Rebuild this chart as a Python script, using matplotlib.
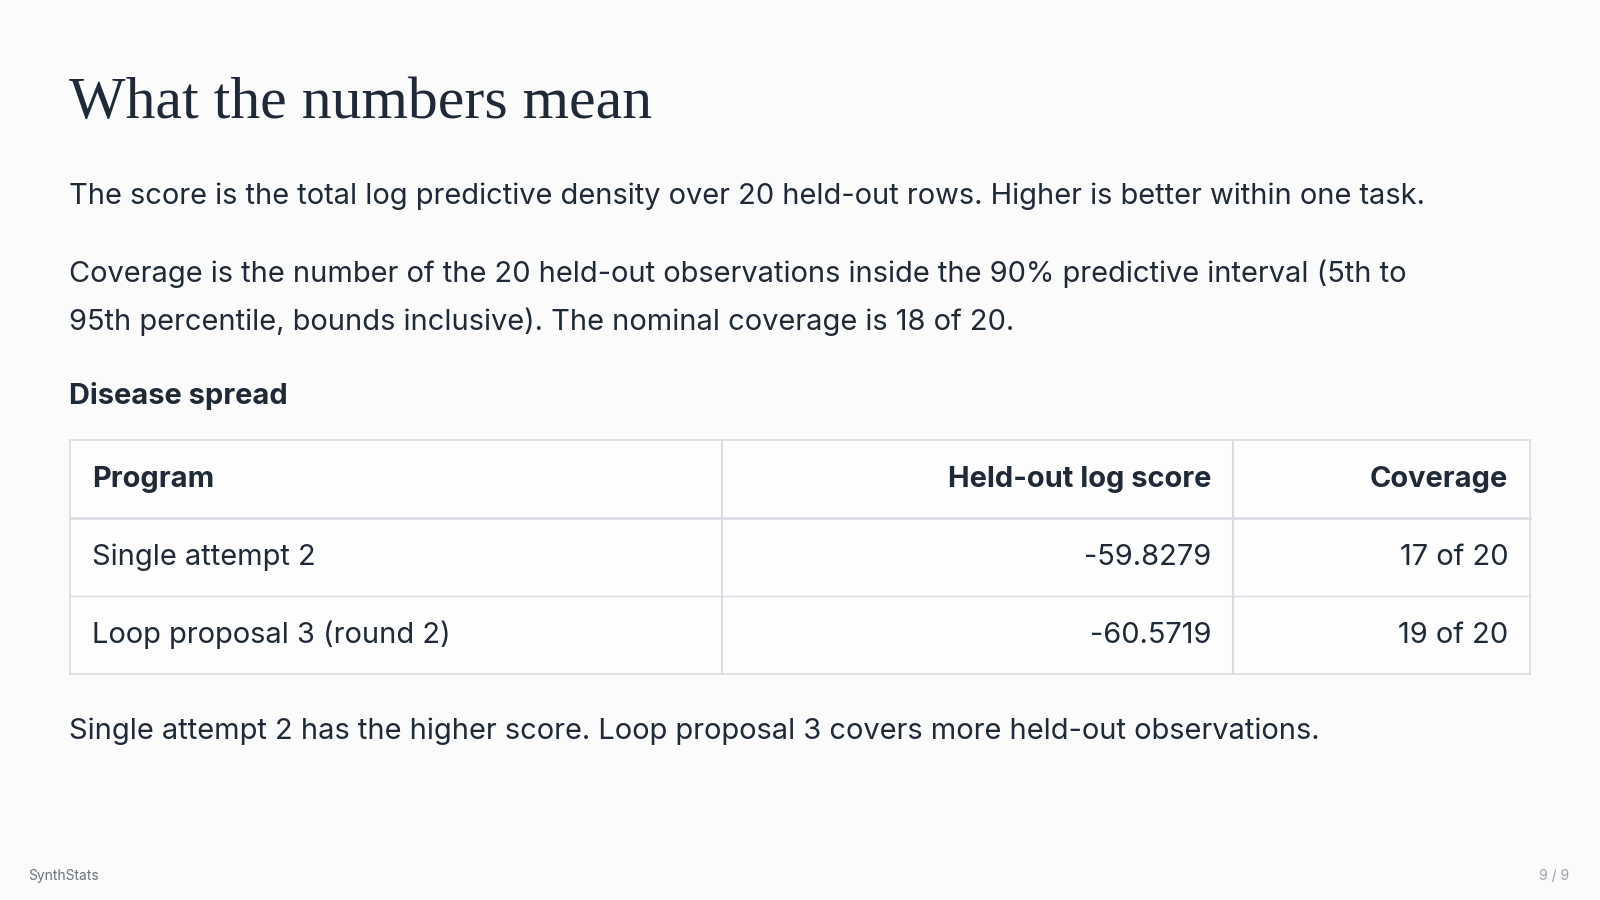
import matplotlib
matplotlib.use("Agg")
import matplotlib.pyplot as plt
from matplotlib.patches import Rectangle
from matplotlib.lines import Line2D

title = "What the numbers mean"
para1 = "The score is the total log predictive density over 20 held-out rows. Higher is better within one task."
para2a = "Coverage is the number of the 20 held-out observations inside the 90% predictive interval (5th to"
para2b = "95th percentile, bounds inclusive). The nominal coverage is 18 of 20."
section = "Disease spread"
headers = ["Program", "Held-out log score", "Coverage"]
programs = ["Single attempt 2", "Loop proposal 3 (round 2)"]
scores = ["-59.8279", "-60.5719"]
coverage = ["17 of 20", "19 of 20"]
closing = "Single attempt 2 has the higher score. Loop proposal 3 covers more held-out observations."
footer_left = "SynthStats"
footer_right = "9 / 9"

W, H = 1568, 882
BG = "#fbfbfc"
TXT = "#1f2937"
GRID = "#d8dce2"
FS = 20.9

fig = plt.figure(figsize=(16, 9), dpi=100, facecolor=BG)

def fx(px): return px / W
def fy(py): return 1 - py / H

def t(x, y, s, **kw):
    kw.setdefault("color", TXT)
    kw.setdefault("family", ["Inter", "DejaVu Sans"])
    kw.setdefault("va", "center")
    fig.text(fx(x), fy(y), s, **kw)

t(68, 102, title, fontsize=43, family=["Liberation Serif", "DejaVu Serif"])
t(68, 192, para1, fontsize=FS)
t(68, 268, para2a, fontsize=FS)
t(68, 315, para2b, fontsize=FS)
t(68, 388, section, fontsize=FS, weight="bold")

left, right = 69, 1499
cols = [69, 708, 1208, 1499]
rows = [431, 508, 584, 661]
fig.patches.append(Rectangle((fx(left), fy(rows[-1])), fx(right) - fx(left), fy(rows[0]) - fy(rows[-1]),
                             transform=fig.transFigure, facecolor="#fdfdfe", edgecolor=GRID, lw=1.2))
for r in rows[1:-1]:
    lw = 1.8 if r == rows[1] else 1.0
    fig.lines.append(Line2D([fx(left), fx(right)], [fy(r), fy(r)], transform=fig.transFigure, color=GRID, lw=lw))
for c in cols[1:-1]:
    fig.lines.append(Line2D([fx(c), fx(c)], [fy(rows[0]), fy(rows[-1])], transform=fig.transFigure, color=GRID, lw=1.5))

pad = 21
def row_text(i, vals, weight="normal"):
    y = (rows[i] + rows[i + 1]) / 2
    t(cols[0] + pad, y, vals[0], fontsize=FS, weight=weight)
    t(cols[2] - pad, y, vals[1], fontsize=FS, weight=weight, ha="right")
    t(cols[3] - pad, y, vals[2], fontsize=FS, weight=weight, ha="right")

row_text(0, headers, weight="bold")
for i in range(len(programs)):
    row_text(i + 1, [programs[i], scores[i], coverage[i]])

t(68, 717, closing, fontsize=FS)
t(28, 858, footer_left, fontsize=10, color="#6b7280")
t(1538, 858, footer_right, fontsize=10, color="#9ca3af", ha="right")

fig.savefig("out.png", dpi=100, facecolor=BG)
